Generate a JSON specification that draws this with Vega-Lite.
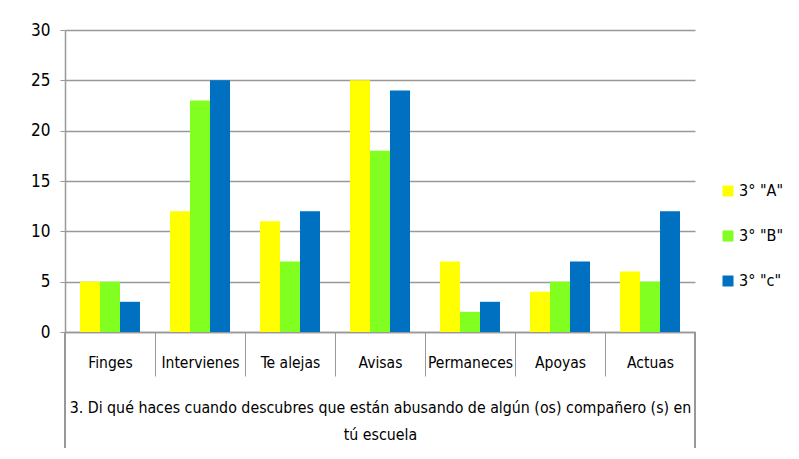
{
  "$schema": "https://vega.github.io/schema/vega-lite/v6.json",
  "autosize": "none",
  "width": 630,
  "height": 302,
  "padding": {"left": 65, "top": 30, "right": 104, "bottom": 127},
  "background": "white",
  "config": {
    "view": {"stroke": null},
    "font": "DejaVu Sans Condensed",
    "axis": {"labelFont": "DejaVu Sans Condensed", "titleFont": "DejaVu Sans Condensed", "labelColor": "#000", "titleColor": "#000"}
  },
  "data": {
    "values": [
      {"cat": "Finges", "serie": "3°  \"A\"", "val": 5},
      {"cat": "Finges", "serie": "3°  \"B\"", "val": 5},
      {"cat": "Finges", "serie": "3°  \"c\"", "val": 3},
      {"cat": "Intervienes", "serie": "3°  \"A\"", "val": 12},
      {"cat": "Intervienes", "serie": "3°  \"B\"", "val": 23},
      {"cat": "Intervienes", "serie": "3°  \"c\"", "val": 25},
      {"cat": "Te alejas", "serie": "3°  \"A\"", "val": 11},
      {"cat": "Te alejas", "serie": "3°  \"B\"", "val": 7},
      {"cat": "Te alejas", "serie": "3°  \"c\"", "val": 12},
      {"cat": "Avisas", "serie": "3°  \"A\"", "val": 25},
      {"cat": "Avisas", "serie": "3°  \"B\"", "val": 18},
      {"cat": "Avisas", "serie": "3°  \"c\"", "val": 24},
      {"cat": "Permaneces", "serie": "3°  \"A\"", "val": 7},
      {"cat": "Permaneces", "serie": "3°  \"B\"", "val": 2},
      {"cat": "Permaneces", "serie": "3°  \"c\"", "val": 3},
      {"cat": "Apoyas", "serie": "3°  \"A\"", "val": 4},
      {"cat": "Apoyas", "serie": "3°  \"B\"", "val": 5},
      {"cat": "Apoyas", "serie": "3°  \"c\"", "val": 7},
      {"cat": "Actuas", "serie": "3°  \"A\"", "val": 6},
      {"cat": "Actuas", "serie": "3°  \"B\"", "val": 5},
      {"cat": "Actuas", "serie": "3°  \"c\"", "val": 12}
    ]
  },
  "layer": [
    {
      "mark": {"type": "bar"},
      "encoding": {
        "x": {
          "field": "cat",
          "type": "nominal",
          "sort": ["Finges", "Intervienes", "Te alejas", "Avisas", "Permaneces", "Apoyas", "Actuas"],
          "scale": {"paddingInner": 0, "paddingOuter": 0},
          "axis": {
            "labelAngle": 0,
            "labelFontSize": 15.5,
            "labelPadding": -21,
            "tickBand": "extent",
            "tickSize": 44,
            "tickColor": "#999999",
            "domainColor": "#999999",
            "domainWidth": 1.5,
            "grid": false,
            "title": ["3. Di qué haces cuando descubres que están abusando de algún (os) compañero (s) en", "tú escuela"],
            "titleFontSize": 15.8,
            "titleFontWeight": "normal",
            "titleLineHeight": 27,
            "titlePadding": 24
          }
        },
        "xOffset": {
          "field": "serie",
          "type": "nominal",
          "scale": {"paddingInner": 0, "paddingOuter": 0.75}
        },
        "y": {
          "field": "val",
          "type": "quantitative",
          "scale": {"domain": [0, 30], "nice": false},
          "axis": {
            "values": [0, 5, 10, 15, 20, 25, 30],
            "grid": true,
            "gridColor": "#999999",
            "gridWidth": 1.5,
            "domainColor": "#999999",
            "domainWidth": 1.5,
            "tickColor": "#999999",
            "tickSize": 5,
            "labelPadding": 10,
            "labelFontSize": 17,
            "title": null
          }
        },
        "color": {
          "field": "serie",
          "type": "nominal",
          "scale": {"range": ["#FFFF00", "#80FF20", "#0070C0"]},
          "legend": {
            "orient": "none",
            "legendX": 655,
            "legendY": 153,
            "title": null,
            "symbolType": "square",
            "symbolSize": 121,
            "symbolStrokeWidth": 0,
            "labelFontSize": 16,
            "labelFont": "DejaVu Sans Condensed",
            "rowPadding": 29,
            "labelOffset": 3
          }
        }
      }
    },
    {
      "mark": {"type": "rule", "color": "#999999", "strokeWidth": 1.5},
      "encoding": {
        "x": {"datum": "Finges", "type": "nominal", "bandPosition": 0},
        "y": {"datum": 0, "type": "quantitative"},
        "y2": {"datum": -11.5}
      }
    },
    {
      "mark": {"type": "rule", "color": "#999999", "strokeWidth": 1.5},
      "encoding": {
        "x": {"datum": "Actuas", "type": "nominal", "bandPosition": 1},
        "y": {"datum": 0, "type": "quantitative"},
        "y2": {"datum": -11.5}
      }
    }
  ]
}
